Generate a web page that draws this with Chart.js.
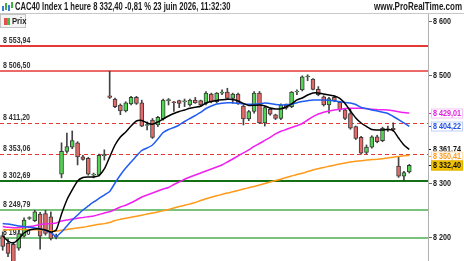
<!DOCTYPE html>
<html><head><meta charset="utf-8">
<script src="https://cdn.jsdelivr.net/npm/chart.js@4"></script>
<style>
html,body{margin:0;padding:0;background:#fff;width:464px;height:261px;overflow:hidden;font-family:"Liberation Sans",Arial,sans-serif;}
#wrap{position:relative;width:464px;height:261px;}
#c{position:absolute;left:0;top:0;}
#hdr{position:absolute;left:0;top:0;width:464px;height:13px;border-bottom:1px solid #c8c8c8;}
#title{position:absolute;left:15px;top:1px;font-size:10px;line-height:11px;font-weight:bold;color:#1a1a1a;white-space:nowrap;transform:scaleX(0.76);transform-origin:0 0;}
#site{position:absolute;right:2px;top:1px;font-size:10px;line-height:11px;font-weight:bold;color:#1a1a1a;white-space:nowrap;transform:scaleX(0.8);transform-origin:100% 0;}
#ico{position:absolute;left:2px;top:2px;width:11px;height:10px;}
#ico span{position:absolute;width:2px;}
#legend{position:absolute;left:0;top:14px;width:24px;height:12px;border:1px solid #c4c4c4;background:#f4f4f4;}
#legend .r{position:absolute;left:3px;top:3px;width:3px;height:7px;background:#e05050;}
#legend .g{position:absolute;left:6px;top:3px;width:3px;height:7px;background:#40c040;}
#legend .t{position:absolute;left:11px;top:0px;font-size:9px;line-height:12px;font-weight:bold;color:#222;transform:scaleX(0.85);transform-origin:0 0;}
</style></head>
<body><div id="wrap">
<canvas id="c" width="464" height="261"></canvas>
<div id="hdr"><div id="ico"><span style="left:0;top:4px;height:5px;background:#3a7be0"></span><span style="left:3px;top:1px;height:7px;background:#40b040"></span><span style="left:6px;top:3px;height:6px;background:#3a7be0"></span><span style="left:9px;top:0px;height:6px;background:#40b040"></span></div>
<div id="title">CAC40 Index 1 heure 8 332,40 -0,81 % 23 juin 2026, 11:32:30</div>
<div id="site">www.ProRealTime.com</div></div>
<div id="legend"><div class="r"></div><div class="g"></div><div class="t">Prix</div></div>
</div>
<script>
const opens  = [8202,8188,8186,8179,8201,8234,8230,8242,8243,8237,8201,8316,8358,8366,8374,8348,8345,8314,8314,8350,8461,8455,8444,8433,8446,8458,8448,8406,8416,8407,8418,8452,8450,8452,8450,8444,8453,8452,8447,8464,8450,8466,8468,8456,8464,8442,8418,8432,8466,8411,8436,8426,8419,8444,8441,8468,8472,8496,8492,8473,8459,8444,8458,8449,8435,8428,8404,8384,8356,8366,8385,8378,8399,8401,8331,8312,8320];
const highs  = [8209,8196,8190,8212,8235,8237,8249,8245,8249,8246,8205,8374,8392,8396,8376,8351,8347,8318,8353,8361,8506.5,8457,8446,8450,8460,8460,8453,8413,8419,8423,8455,8456,8451,8453,8455,8455,8458,8453,8469,8466,8467,8472,8475,8466,8466,8444,8434,8469,8469,8441,8438,8427,8446,8446,8469,8472,8498,8500,8493,8478,8461,8458,8461,8451,8436,8436,8405,8386,8370,8387,8388,8403,8405,8411,8348,8321,8334];
const lows   = [8175,8163,8148,8175,8199,8232,8228,8177,8203,8194,8196,8309,8355,8363,8333,8342,8314,8309,8312,8342,8456,8439,8426,8431,8444,8445,8404,8398,8382,8404,8416,8444,8432,8439,8441,8442,8447,8442,8444,8448,8448,8463,8454,8447,8445,8407,8415,8429,8410,8405,8425,8417,8417,8436,8439,8463,8470,8489,8472,8461,8442,8429,8450,8432,8417,8399,8380,8353,8353,8364,8374,8376,8395,8395,8310,8304,8318];
const closes = [8182,8169,8152,8206,8231,8235.5,8246,8201,8206,8197,8199,8358,8367,8378,8348,8343,8316,8316,8351,8352,8458,8441,8433,8448,8458,8447,8405,8407.5,8384,8421,8453,8454,8448.5,8447,8451.5,8453,8448,8444,8466,8450,8466,8468,8456,8464,8447,8418,8432,8466,8411,8439,8427,8419,8444,8438,8468,8469.5,8496,8497.5,8473,8463,8444,8456,8452,8435,8419,8401,8382,8355,8366,8385,8376,8401,8400,8398,8312,8319,8332.4];
const maBlack = [8201.4,8192.1,8188.4,8195.8,8207.0,8212.5,8214.4,8214.4,8212.5,8208.8,8212.5,8242.1,8268.1,8286.6,8303.2,8309.7,8310.6,8310.6,8313.4,8325.5,8347.7,8369.9,8384.7,8394.0,8405.1,8414.4,8415.3,8410.7,8408.3,8412.5,8418.1,8423.6,8428.3,8431.9,8434.7,8437.9,8439.7,8441.6,8447.7,8450.5,8452.3,8453.6,8454.6,8454.2,8451.4,8446.8,8443.1,8443.5,8444.0,8442.2,8438.4,8436.6,8437.0,8440.3,8445.9,8453.3,8457.0,8462.5,8466.2,8466.2,8464.4,8462.5,8460.7,8456.4,8446.8,8432.9,8419.9,8410.7,8404.2,8398.6,8397.7,8397.7,8398.6,8396.8,8382.9,8369.9,8361.74];
const maBlue = [8224.5,8223.6,8221.8,8219.9,8219.0,8217.5,8216.2,8214.4,8211.6,8207.9,8200.5,8208.8,8219.9,8231.0,8240.3,8249.5,8257.0,8264.4,8270.9,8277.3,8283.8,8299.6,8314.4,8327.3,8338.4,8349.6,8359.7,8364.4,8369.9,8381.0,8393.1,8398.6,8402.3,8407.0,8413.4,8419.0,8424.5,8430.1,8437.5,8442.1,8445.8,8447.3,8448.1,8448.3,8447.1,8445.8,8445.5,8445.3,8446.2,8447.7,8446.8,8444.9,8444.0,8444.6,8445.3,8448.3,8450.5,8452.0,8453.3,8453.3,8453.3,8452.7,8451.4,8450.1,8448.6,8447.7,8444.9,8439.4,8437.5,8434.7,8432.9,8430.5,8428.3,8422.7,8417.1,8410.7,8404.22];
const maMagenta = [8219.0,8217.5,8216.8,8217.1,8218.1,8219.0,8220.5,8222.7,8223.6,8224.5,8225.5,8229.2,8231.0,8232.9,8234.4,8235.6,8237.1,8238.4,8241.2,8244.0,8246.4,8250.5,8255.1,8258.3,8262.9,8268.1,8273.6,8277.3,8281.0,8284.7,8288.4,8291.2,8296.8,8301.4,8306.4,8310.6,8314.4,8318.1,8321.8,8325.5,8329.2,8332.9,8338.4,8344.0,8349.6,8355.2,8360.7,8367.2,8372.7,8378.3,8384.2,8390.4,8395.3,8398.6,8402.3,8405.5,8409.7,8416.2,8422.3,8427.3,8430.7,8432.9,8434.7,8436.0,8437.3,8437.9,8437.9,8437.9,8437.0,8436.2,8435.5,8435.1,8434.7,8433.3,8431.6,8429.9,8429.01];
const maOrange = [8212.5,8212.9,8213.4,8213.8,8213.6,8213.3,8212.9,8212.5,8211.6,8210.7,8210.3,8212.0,8213.4,8214.9,8216.2,8217.5,8219.4,8221.2,8223.0,8224.3,8226.4,8230.1,8232.3,8234.2,8236.0,8237.9,8239.9,8242.1,8244.0,8245.8,8248.1,8250.5,8253.3,8255.9,8258.3,8260.7,8263.4,8267.1,8270.3,8273.1,8275.8,8278.4,8281.0,8283.2,8285.8,8288.4,8290.8,8293.2,8295.8,8298.6,8301.4,8304.0,8306.6,8309.7,8312.5,8315.3,8317.5,8320.7,8323.6,8326.0,8328.3,8330.5,8332.5,8334.7,8336.6,8338.4,8339.7,8340.8,8342.2,8342.9,8343.6,8344.6,8345.9,8347.4,8348.6,8350.0,8350.41];
const yTicks = [8200, 8300, 8500, 8600];
const levelValues = [8553.94, 8506.50, 8411.20, 8353.06, 8302.69, 8249.79, 8197.00];
const lastPrice = 8332.40;

const levelStyles = [
  {c:'#e53935', w:2, d:[]}, {c:'#e53935', w:1.5, d:[]},
  {c:'#e53935', w:1, d:[4,3]}, {c:'#e53935', w:1, d:[4,3]},
  {c:'#137013', w:2, d:[]}, {c:'#4caf50', w:1.5, d:[]}, {c:'#4caf50', w:1.5, d:[]}
];

function fmt(v, dec){
  const s = v.toFixed(dec).split('.');
  const a = s[0].replace(/\B(?=(\d{3})+(?!\d))/g,' ');
  return s.length>1 ? a + ',' + s[1] : a;
}
function squeezeText(ctx, txt, x, y, sx){
  ctx.save(); ctx.translate(x, y); ctx.scale(sx, 1); ctx.fillText(txt, 0, 0); ctx.restore();
}

const N = 80;
const labels = Array.from({length:N}, (_,i)=> i<opens.length ? String(i) : '');
const pad = arr => arr.concat(Array(N-arr.length).fill(null));

const bodyColors = opens.map((o,i)=> closes[i]>=o ? '#52d452' : '#e46a6a');
const FONT = '"Liberation Sans", Arial, sans-serif';

const levelsPlugin = {
  id:'levels',
  beforeDatasetsDraw(chart){
    const {ctx, chartArea, scales:{y}} = chart;
    ctx.save();
    levelValues.forEach((v,i)=>{
      const st = levelStyles[i];
      const py = Math.round(y.getPixelForValue(v)) + (st.w%2===1?0.5:0);
      ctx.strokeStyle = st.c; ctx.lineWidth = st.w; ctx.setLineDash(st.d);
      ctx.beginPath(); ctx.moveTo(chartArea.left, py); ctx.lineTo(chartArea.right, py); ctx.stroke();
    });
    ctx.setLineDash([]);
    ctx.font = 'bold 9px ' + FONT;
    ctx.fillStyle = '#333'; ctx.textBaseline = 'alphabetic'; ctx.textAlign='left';
    levelValues.forEach((v)=>{
      const py = y.getPixelForValue(v);
      squeezeText(ctx, fmt(v,2), 3, py - 3, 0.78);
    });
    ctx.restore();
  },
  afterDraw(chart){
    const {ctx, chartArea, scales:{y}} = chart;
    const x0 = chartArea.right;
    const sx = 0.8;
    ctx.save();
    ctx.font = 'bold 9px ' + FONT;
    ctx.textBaseline = 'middle'; ctx.textAlign='left';
    yTicks.forEach(v=>{
      const py = Math.round(y.getPixelForValue(v));
      ctx.strokeStyle = '#666'; ctx.lineWidth = 1;
      ctx.beginPath(); ctx.moveTo(x0+1, py+0.5); ctx.lineTo(x0+4, py+0.5); ctx.stroke();
      ctx.fillStyle = '#222'; squeezeText(ctx, fmt(v,0), x0+5, py+0.5, sx);
    });
    const tags = [
      {v: maMagenta[maMagenta.length-1], fg:'#e020e0', bg:'#fff', bd:'#f4c4f4'},
      {v: maBlue[maBlue.length-1], fg:'#1f4fe0', bg:'#fff', bd:'#c0cff6'},
      {v: maBlack[maBlack.length-1], fg:'#111', bg:'#fff', bd:'#fff'},
      {v: maOrange[maOrange.length-1], fg:'#ff9a1a', bg:'#fff', bd:'#ffe0b8'},
      {v: lastPrice, fg:'#111', bg:'#f5c400', bd:'#e0b000'}
    ];
    tags.forEach(t=>{
      const py = Math.round(y.getPixelForValue(t.v));
      const txt = fmt(t.v,2);
      const w = ctx.measureText(txt).width * sx;
      ctx.fillStyle = t.bg; ctx.fillRect(x0+3, py-4.5, w+4, 10);
      ctx.strokeStyle = t.bd; ctx.lineWidth = 1; ctx.strokeRect(x0+3.5, py-4, w+3, 9);
      ctx.strokeStyle = t.fg; ctx.beginPath(); ctx.moveTo(x0+1, py+0.5); ctx.lineTo(x0+3, py+0.5); ctx.stroke();
      ctx.fillStyle = t.fg; squeezeText(ctx, txt, x0+5, py+0.5, sx);
    });
    ctx.restore();
  }
};

new Chart(document.getElementById('c'), {
  type:'bar',
  data:{
    labels,
    datasets:[
      {type:'line', data:pad(maBlack), borderColor:'#000', borderWidth:1.5, pointRadius:0, tension:0.2, order:1},
      {type:'line', data:pad(maBlue), borderColor:'#1f5cf0', borderWidth:1.5, pointRadius:0, tension:0.2, order:2},
      {type:'line', data:pad(maMagenta), borderColor:'#f020f0', borderWidth:1.5, pointRadius:0, tension:0.2, order:3},
      {type:'line', data:pad(maOrange), borderColor:'#ff9a1a', borderWidth:1.5, pointRadius:0, tension:0.2, order:4},
      {type:'bar', data:pad(opens.map((o,i)=>[o, closes[i]])), backgroundColor:pad(bodyColors), borderColor:'#3a3a3a', borderWidth:1, borderSkipped:false, barThickness:4, grouped:false, order:5},
      {type:'bar', data:pad(lows.map((l,i)=>[l, highs[i]])), backgroundColor:'#444', borderWidth:0, barThickness:1, grouped:false, order:6}
    ]
  },
  options:{
    responsive:false, animation:false, maintainAspectRatio:false,
    layout:{padding:{top:14,left:0,right:0,bottom:0}},
    plugins:{legend:{display:false}, tooltip:{enabled:false}},
    scales:{
      x:{type:'category', display:false, offset:true, grid:{display:false}},
      y:{type:'linear', position:'right', min:8155.1, max:8612.5,
        afterBuildTicks(s){ s.ticks = yTicks.map(v=>({value:v})); },
        afterFit(s){ s.width = 36; s.paddingTop = 0; s.paddingBottom = 0; },
        grid:{drawOnChartArea:false, drawTicks:false},
        border:{display:true, color:'#b0b0b0'},
        ticks:{display:false}
      }
    }
  },
  plugins:[levelsPlugin]
});
</script>
</body></html>
